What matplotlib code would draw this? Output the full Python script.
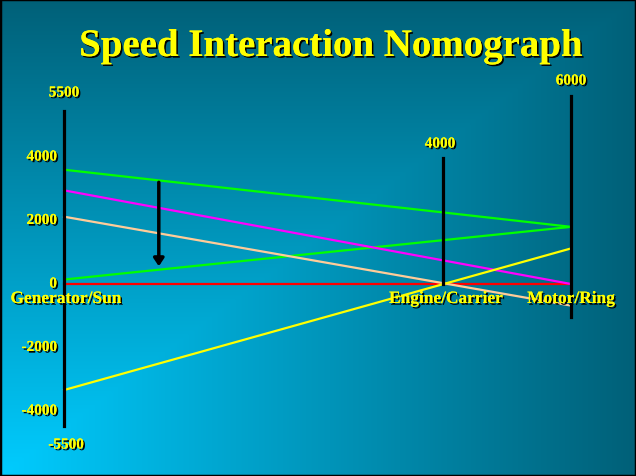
import numpy as np
import matplotlib
matplotlib.use('Agg')
import matplotlib.pyplot as plt
import matplotlib.patheffects as pe

# Positions of the three nomograph axes (sun, carrier, ring)
axis_pos = [0.0, 0.7475, 1.0]
axis_names = ['Generator/Sun', 'Engine/Carrier', 'Motor/Ring']
axis_top = [5450, 3970, 5920]
axis_bottom = [-4470, 0, -1040]
axis_top_labels = ['5500', '4000', '6000']

# Left scale ticks
tick_values = [4000, 2000, 0, -2000, -4000]
tick_labels = ['4000', '2000', '0', '-2000', '-4000']

# Speed lines: value at the sun axis and at the ring axis
line_colors = ['#ff0000', '#00ff00', '#00ff00', '#ff00ff', '#ffcc99', '#ffff00']
line_left = [0, 3600, 140, 2950, 2120, -3340]
line_right = [0, 1800, 1800, 0, -680, 1120]

# Arrow from upper green line to lower green line
arrow_x = 0.187
arrow_from = 3290
arrow_to = 470

# pixel layout -> data mapping
W, H = 636, 477
px0, px1 = 64, 571
py0, ppk = 285, 31.75 / 1000.0
sx = 1.0 / (px1 - px0)

fig = plt.figure(figsize=(6.36, 4.77), dpi=100)
ax = fig.add_axes([0, 0, 1, 1])
ax.set_xlim(-px0 * sx, (W - px0) * sx)
ax.set_ylim(-(H - py0) / ppk, py0 / ppk)
ax.axis('off')

# background gradient ("from corner" style, bright at lower left)
xx, yy = np.meshgrid(np.linspace(0, 1, 318), np.linspace(0, 1, 240))
t = np.maximum(xx, yy)  # yy = 0 at bottom (origin='lower')
bright = np.array([0, 204, 255]) / 255
dark = np.array([0, 96, 120]) / 255
img = bright[None, None, :] * (1 - t[..., None]) + dark[None, None, :] * t[..., None]
ax.imshow(img, origin='lower', extent=[*ax.get_xlim(), *ax.get_ylim()],
          aspect='auto', zorder=0, interpolation='bilinear')

shadow = [pe.withSimplePatchShadow(offset=(1.2, -1.2), shadow_rgbFace='black', alpha=1.0),
          pe.Normal()]
font = 'Liberation Serif'

# vertical axes
for xp, top, bot in zip(axis_pos, axis_top, axis_bottom):
    ax.plot([xp, xp], [bot, top], color='black', lw=2.3, zorder=3)

# speed lines
for c, l, r in zip(line_colors, line_left, line_right):
    ax.plot([axis_pos[0], axis_pos[2]], [l, r], color=c, lw=1.6, zorder=2)

ax.annotate('', xy=(arrow_x, arrow_to), xytext=(arrow_x, arrow_from),
            arrowprops=dict(arrowstyle='-|>,head_length=0.45,head_width=0.3',
                            color='black', lw=2.5), zorder=4)

# texts
ax.text((331 - px0) * sx, (py0 - 57) / ppk, 'Speed Interaction Nomograph',
        color='#ffff00', fontsize=28, fontweight='bold', family=font,
        ha='center', va='baseline', path_effects=shadow, zorder=5)

for v, lab in zip(tick_values, tick_labels):
    ax.text(-7 * sx, v, lab, color='#ffff00', fontsize=11, fontweight='bold',
            family=font, ha='right', va='center', path_effects=shadow, zorder=5)

top_label_y = [(py0 - 94) / ppk, (py0 - 145) / ppk, (py0 - 82) / ppk]
top_label_x = [axis_pos[0], axis_pos[1] - 3 * sx, axis_pos[2]]
for xp, yp, lab in zip(top_label_x, top_label_y, axis_top_labels):
    ax.text(xp, yp, lab, color='#ffff00', fontsize=11, fontweight='bold',
            family=font, ha='center', va='center', path_effects=shadow, zorder=5)

ax.text(axis_pos[0] + 2 * sx, -(446 - py0) / ppk, '-5500', color='#ffff00',
        fontsize=11, fontweight='bold', family=font, ha='center', va='center',
        path_effects=shadow, zorder=5)

name_x = [axis_pos[0] + 2 * sx, axis_pos[1] + 3 * sx, axis_pos[2]]
for xp, name in zip(name_x, axis_names):
    ax.text(xp, -(300 - py0) / ppk, name, color='#ffff00', fontsize=12.5,
            fontweight='bold', family=font, ha='center', va='center',
            path_effects=shadow, zorder=5)

# black frame
fig.patches.append(plt.Rectangle((0, 0), 1, 1, transform=fig.transFigure,
                                 fill=False, edgecolor='black', lw=2.5))

fig.savefig('out.png', dpi=100)
